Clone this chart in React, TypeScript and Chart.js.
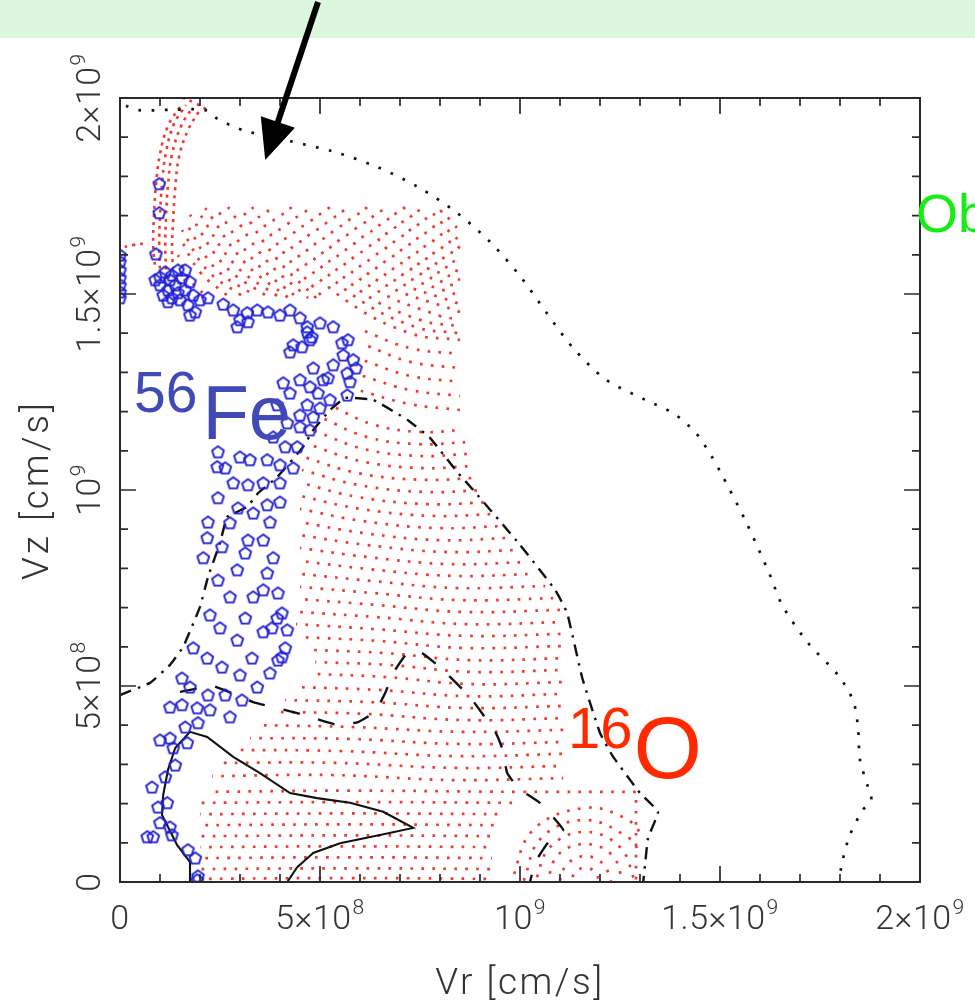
import React, { useEffect, useRef } from 'react';
import { Chart, registerables } from 'chart.js';

Chart.register(...registerables);

// All values are in units of 1e8 cm/s
const U = 1e8;

const X_TICK_VALUES = [0, 5, 10, 15, 20];
const Y_TICK_VALUES = [0, 5, 10, 15, 20];
const X_TICK_LABELS: [string, string][] = [['0', ''], ['5×10', '8'], ['10', '9'], ['1.5×10', '9'], ['2×10', '9']];
const Y_TICK_LABELS: [string, string][] = [['0', ''], ['5×10', '8'], ['10', '9'], ['1.5×10', '9'], ['2×10', '9']];
const MINOR_STEP = 1;
const AXIS_MAX = 20;

const X_TITLE = 'Vr [cm/s]';
const Y_TITLE = 'Vz [cm/s]';

// outer dotted contour
const OUTER_DOTTED: number[][] = [
  [0.15, 19.8], [0.45, 19.69], [1.3, 19.7], [2.13, 19.69], [2.45, 19.46], [2.8, 19.29], [3.13, 19.16],
  [4.25, 18.9], [5.38, 18.62], [6.43, 18.24], [7.45, 17.73], [8.4, 17.09], [9.25, 16.33], [10.0, 15.46],
  [10.65, 14.54], [11.33, 13.62], [12.13, 12.83], [13.13, 12.3], [13.83, 11.96], [14.4, 11.45],
  [14.8, 10.84], [15.0, 10.48], [15.63, 9.23], [16.25, 7.83], [16.55, 7.07], [17.2, 6.1], [17.95, 5.28],
  [18.33, 4.62], [18.45, 3.95], [18.5, 3.11], [18.7, 2.42], [18.78, 2.09], [18.55, 1.81], [18.23, 1.15],
  [18.03, 0.38], [18.0, 0],
];

// dash-dot contour
const DASH_DOT: number[][] = [
  [0, 4.77], [0.75, 5.08], [1.25, 5.54], [1.58, 6.0], [2.0, 7.02], [2.2, 7.78], [2.5, 8.65], [2.68, 9.31],
  [3.18, 9.57], [3.45, 9.92], [3.93, 10.33], [4.58, 11.1], [4.83, 11.53], [5.25, 12.04], [5.63, 12.35],
  [6.33, 12.3], [7.18, 11.79], [7.75, 11.33], [8.43, 10.46], [8.83, 10.0], [10.0, 8.6], [10.88, 7.45],
  [11.18, 6.86], [11.55, 5.23], [12.0, 3.8], [12.33, 3.19], [13.0, 2.27], [13.45, 1.79], [13.2, 1.12],
  [13.13, 0.48], [13.08, 0],
];

// dashed contour
const DASHED: number[][] = [
  [1.5, 4.85], [2.33, 5.0], [3.33, 4.59], [4.43, 4.31], [5.45, 4.0], [5.95, 4.08], [6.38, 4.34],
  [6.63, 4.82], [6.83, 5.33], [7.2, 5.87], [7.55, 5.84], [8.0, 5.48], [8.75, 4.72], [9.38, 3.83],
  [9.55, 3.42], [9.68, 2.78], [9.95, 2.4], [10.5, 2.02], [11.08, 1.33], [10.7, 1.0], [10.38, 0.51],
  [10.25, 0],
];

// solid contour
const SOLID: number[][] = [
  [1.75, 0], [1.75, 0.51], [1.43, 0.94], [1.05, 1.71], [1.08, 2.22], [1.2, 2.86], [1.38, 3.42],
  [1.75, 3.83], [2.18, 3.7], [2.83, 3.19], [3.5, 2.78], [4.25, 2.27], [4.93, 2.14], [5.75, 2.02],
  [6.58, 1.79], [7.33, 1.38], [6.5, 1.2], [5.5, 0.99], [4.83, 0.74], [4.43, 0.38], [4.18, 0],
];

// 16O particles: rows of the red dotted tracer field
const RED_PLUME: number[][][] = [
  [[1.5, 19.77], [1.2, 19.29], [1.0, 18.57], [0.9, 17.78], [0.85, 17.01], [0.83, 16.25], [0.88, 15.66]],
  [[1.65, 19.82], [1.35, 19.34], [1.15, 18.62], [1.05, 17.8], [1.0, 16.99], [0.98, 16.25], [1.0, 15.56]],
  [[1.8, 19.74], [1.53, 19.29], [1.3, 18.57], [1.2, 17.76], [1.15, 16.94], [1.13, 16.25], [1.15, 15.56]],
  [[1.98, 19.67], [1.7, 19.18], [1.48, 18.52], [1.38, 17.7], [1.33, 16.89], [1.3, 16.1], [1.33, 15.66]],
  [[1.58, 20.0], [1.88, 19.87], [2.2, 19.69]],
  [[0, 16.17], [0.33, 16.25], [0.68, 16.3]],
];

const RED_FAN: number[][][] = [
  [[8.0, 17.14], [8.3, 16.84], [8.5, 16.58]],
  [[7.7, 17.19], [8.05, 16.81], [8.33, 16.48], [8.5, 16.38]],
  [[7.38, 17.22], [7.8, 16.76], [8.18, 16.38], [8.5, 16.17]],
  [[7.08, 17.22], [7.53, 16.68], [8.0, 16.22], [8.5, 15.97]],
  [[6.75, 17.22], [7.25, 16.63], [7.8, 16.07], [8.5, 15.77]],
  [[6.45, 17.22], [6.98, 16.58], [7.6, 15.94], [8.5, 15.56]],
  [[6.13, 17.22], [6.7, 16.5], [7.38, 15.82], [8.5, 15.36]],
  [[5.83, 17.22], [6.43, 16.43], [7.18, 15.69], [8.5, 15.15]],
  [[5.5, 17.22], [6.13, 16.38], [6.95, 15.56], [8.5, 14.95]],
  [[5.2, 17.22], [5.85, 16.3], [6.73, 15.43], [8.5, 14.74]],
  [[4.88, 17.22], [5.55, 16.25], [6.5, 15.31], [8.5, 14.54]],
  [[4.58, 17.22], [5.28, 16.17], [6.28, 15.18], [8.0, 14.44], [8.5, 14.36]],
  [[4.25, 17.22], [5.0, 16.12], [6.05, 15.05], [7.5, 14.34], [8.5, 14.18]],
  [[3.95, 17.22], [4.73, 16.05], [5.85, 14.95], [7.38, 14.16], [8.5, 14.0]],
  [[3.63, 17.22], [4.45, 15.99], [5.63, 14.85], [7.25, 14.0], [8.5, 13.83]],
  [[3.3, 17.22], [4.18, 15.94], [5.13, 14.85]],
  [[3.0, 17.22], [3.9, 15.92], [4.95, 14.85]],
  [[6.05, 14.08], [7.25, 13.62], [8.5, 13.47]],
  [[2.7, 17.22], [3.65, 15.87], [4.7, 14.9]],
  [[2.38, 17.22], [3.38, 15.82], [4.5, 14.85]],
  [[6.13, 13.7], [7.25, 13.27], [8.5, 13.11]],
  [[2.13, 17.19], [3.13, 15.79], [4.25, 14.87]],
  [[1.93, 17.14], [2.88, 15.74], [4.0, 14.9]],
  [[6.05, 13.32], [7.25, 12.91], [8.5, 12.76]],
  [[1.75, 17.02], [2.63, 15.71], [3.7, 14.92]],
  [[1.63, 16.84], [2.38, 15.66], [3.38, 14.95]],
  [[6.0, 12.93], [7.25, 12.55], [8.5, 12.4]],
  [[1.55, 16.63], [2.18, 15.61], [3.05, 14.95]],
  [[1.5, 16.43], [2.0, 15.56], [2.7, 14.95]],
  [[5.95, 12.55], [7.25, 12.19], [8.5, 12.04]],
  [[1.45, 15.99], [1.75, 15.36], [2.13, 14.97]],
];

const RED_MID: number[][][] = [
  [[5.25, 12.17], [6.3, 11.68], [7.5, 11.48], [8.55, 11.53]],
  [[5.05, 11.84], [6.18, 11.35], [7.45, 11.17], [8.63, 11.22]],
  [[4.88, 11.5], [6.08, 11.05], [7.45, 10.87], [8.7, 10.92]],
  [[4.7, 11.17], [6.0, 10.74], [7.5, 10.56], [8.8, 10.61]],
  [[4.6, 10.84], [5.95, 10.43], [7.55, 10.26], [8.95, 10.31]],
  [[4.55, 10.51], [5.95, 10.13], [7.63, 9.95], [9.1, 10.0]],
  [[4.53, 10.18], [5.95, 9.82], [7.7, 9.64], [9.25, 9.69]],
  [[4.5, 9.85], [6.0, 9.52], [7.8, 9.34], [9.4, 9.39]],
  [[4.5, 9.52], [6.05, 9.21], [7.9, 9.03], [9.58, 9.08]],
  [[4.5, 9.18], [6.1, 8.9], [8.0, 8.72], [9.75, 8.78]],
  [[4.5, 8.85], [6.15, 8.6], [8.1, 8.42], [9.95, 8.47]],
  [[4.5, 8.52], [6.2, 8.29], [8.2, 8.11], [10.15, 8.16]],
  [[4.5, 8.19], [6.25, 7.98], [8.3, 7.81], [10.38, 7.86]],
  [[4.5, 7.86], [6.3, 7.68], [8.4, 7.5], [10.63, 7.55]],
  [[4.5, 7.53], [6.35, 7.37], [8.5, 7.19], [10.83, 7.24]],
  [[4.48, 7.22], [6.38, 7.07], [8.55, 6.89], [11.0, 6.94]],
  [[4.45, 6.89], [6.4, 6.76], [8.6, 6.58], [11.08, 6.63]],
  [[4.4, 6.58], [6.4, 6.45], [8.6, 6.28], [11.08, 6.33]],
  [[4.5, 6.25], [6.45, 6.15], [8.6, 5.97], [11.08, 6.02]],
  [[4.8, 5.92], [6.63, 5.84], [8.75, 5.66], [11.08, 5.71]],
  [[4.88, 5.61], [6.68, 5.54], [8.75, 5.36], [11.08, 5.41]],
  [[4.8, 5.31], [6.63, 5.23], [8.75, 5.05], [11.08, 5.1]],
  [[4.5, 4.97], [6.45, 4.9], [8.7, 4.74], [11.08, 4.8]],
  [[4.13, 4.64], [6.25, 4.59], [8.65, 4.44], [11.08, 4.49]],
  [[3.88, 4.34], [6.1, 4.29], [8.6, 4.13], [11.08, 4.18]],
  [[3.55, 4.0], [5.9, 3.95], [8.55, 3.83], [11.08, 3.88]],
  [[3.25, 3.67], [5.75, 3.65], [8.5, 3.52], [11.08, 3.57]],
  [[2.88, 3.37], [5.55, 3.34], [8.45, 3.21], [11.08, 3.27]],
  [[2.55, 3.04], [5.38, 3.04], [8.4, 2.91], [11.08, 2.96]],
  [[2.3, 2.7], [5.25, 2.73], [8.38, 2.6], [11.08, 2.65]],
];

const RED_LOW: number[][][] = [
  [[2.25, 2.3], [5.75, 2.33], [10.0, 2.3], [13.0, 2.3]],
  [[2.0, 2.02], [5.75, 2.04], [9.8, 2.02]],
  [[2.0, 1.73], [5.75, 1.75], [9.6, 1.73]],
  [[2.0, 1.45], [5.75, 1.47], [9.5, 1.45]],
  [[2.0, 1.17], [5.75, 1.19], [9.4, 1.17]],
  [[2.0, 0.89], [5.75, 0.91], [9.3, 0.89]],
  [[2.0, 0.61], [5.75, 0.63], [9.3, 0.61]],
  [[2.0, 0.33], [5.75, 0.35], [9.3, 0.33]],
  [[2.0, 0.08], [5.75, 0.1], [9.3, 0.08]],
];

const RED_ARCS: number[][][] = [
  [[11.28, 0], [11.38, 0.26], [11.63, 0.36], [11.88, 0.26], [11.98, 0]],
  [[10.98, 0], [11.18, 0.46], [11.63, 0.66], [12.08, 0.46], [12.28, 0]],
  [[10.68, 0], [10.95, 0.69], [11.63, 0.97], [12.3, 0.69], [12.58, 0]],
  [[10.38, 0], [10.75, 0.89], [11.63, 1.28], [12.5, 0.89], [12.88, 0]],
  [[10.08, 0], [10.53, 1.12], [11.63, 1.58], [12.73, 1.12], [13.0, 0.74]],
  [[9.78, 0], [10.33, 1.33], [11.63, 1.89], [12.63, 1.63], [13.0, 1.28]],
  [[12.9, 2.22], [12.9, 0.05]],
];

// 56Fe particles (blue pentagons)
const FE_POINTS: number[][] = [
  [0, 15.99], [0, 15.82], [0, 15.61], [0, 15.41], [0, 15.23], [0, 15.05], [0, 14.9],
  [0.98, 17.81], [0.98, 17.07], [0.9, 16.02],
  [1.0, 15.43], [1.13, 15.56], [1.3, 15.48], [1.45, 15.61], [1.55, 15.41], [1.38, 15.23], [1.2, 15.1],
  [1.0, 15.23], [1.63, 15.1], [1.75, 15.31], [1.83, 14.97], [1.3, 14.9], [1.5, 14.85], [1.7, 14.72],
  [1.88, 14.54], [1.08, 14.97], [1.45, 15.03], [1.25, 15.36], [1.63, 15.61], [1.75, 14.46], [1.2, 14.8],
  [0.88, 15.36], [2.0, 14.85],
  [2.2, 14.9], [2.58, 14.74], [2.83, 14.59], [3.0, 14.34], [2.93, 14.16], [3.18, 14.52], [3.2, 14.29],
  [3.43, 14.59], [3.7, 14.54], [4.0, 14.46], [4.25, 14.59], [4.5, 14.39], [4.68, 14.16], [4.8, 13.9],
  [4.55, 13.65], [4.25, 13.52], [4.33, 13.7], [5.0, 14.26], [5.33, 14.16], [4.68, 14.03], [4.75, 13.83],
  [5.55, 13.75], [5.7, 13.83], [5.58, 13.44], [5.83, 13.32], [5.9, 13.11], [4.83, 13.11], [5.33, 13.19],
  [5.68, 12.98], [5.75, 12.76], [5.2, 12.86], [4.75, 12.63], [4.95, 12.47], [5.25, 12.3], [5.68, 12.42],
  [4.68, 12.17], [5.0, 12.09], [5.08, 12.81], [4.5, 12.81], [4.25, 12.47], [4.5, 11.91], [4.83, 11.86],
  [4.5, 11.61], [4.18, 11.71], [3.93, 12.17], [4.75, 11.53], [4.43, 11.1], [3.83, 11.35], [4.13, 11.1],
  [4.08, 12.73],
  [2.45, 10.97], [2.43, 10.59], [2.63, 10.56], [3.0, 10.84], [3.25, 10.77], [3.68, 10.77], [4.0, 10.64],
  [4.33, 10.56], [2.83, 10.18], [3.2, 10.13], [3.58, 10.18], [4.0, 10.18], [2.45, 9.8], [2.95, 9.54],
  [3.33, 9.41], [3.68, 9.62], [4.0, 9.69], [2.2, 9.18], [2.75, 9.16], [3.75, 9.18], [2.18, 8.78],
  [2.55, 8.55], [3.2, 8.72], [3.58, 8.72], [2.08, 8.27], [3.13, 8.39], [3.83, 8.27], [2.93, 7.96],
  [3.68, 7.88], [2.45, 7.7], [2.75, 7.27], [3.33, 7.27], [3.58, 7.45], [3.95, 7.37], [2.25, 6.81],
  [3.13, 6.73], [3.93, 6.73], [2.5, 6.48], [3.8, 6.48], [2.93, 6.17], [3.58, 6.38], [1.83, 5.97],
  [2.18, 5.71], [2.55, 5.48], [3.0, 5.28], [3.43, 4.97], [3.75, 5.33], [4.13, 5.97], [4.18, 6.43],
  [1.55, 5.2], [1.75, 4.97], [2.2, 4.77], [2.63, 4.77], [1.25, 4.46], [1.55, 4.52], [1.93, 4.44],
  [2.25, 4.39], [4.05, 6.86], [4.05, 5.74], [3.3, 5.71], [3.95, 5.66], [3.05, 4.64], [2.75, 4.21],
  [1.95, 4.06], [1.63, 3.95], [1.0, 3.62], [1.25, 3.67], [1.33, 3.42], [1.68, 3.55], [1.38, 2.98],
  [1.13, 2.68], [0.8, 2.42], [0.95, 1.91], [1.18, 2.02], [1.0, 1.51], [1.25, 1.4], [1.3, 1.2],
  [0.68, 1.15], [0.83, 1.15], [1.7, 0.82], [1.88, 0.61], [1.93, 0.05], [1.95, 0.15],
];

// annotations (data coordinates, units of 1e8)
const ARROW_TAIL = [4.95, 22.45];
const ARROW_TIP = [3.63, 18.42];
const FE_LABEL = { vr: 0.35, vz: 11.99, sup: '56', main: 'Fe' };
const O_LABEL = { vr: 11.2, vz: 3.42, sup: '16', main: 'O' };
const OB_LABEL = { vr: 19.9, vz: 16.58, text: 'Ob' };

const TICK_FONT = 'Roboto, "DejaVu Sans", sans-serif';
const TICK_WEIGHT = 300;
const TICK_COLOR = '#333333';
const RED = '#ee3a30';
const BLUE = '#1f1fd6';

function makePentagon(): HTMLCanvasElement {
  const c = document.createElement('canvas');
  c.width = 17;
  c.height = 17;
  const g = c.getContext('2d')!;
  g.strokeStyle = BLUE;
  g.lineWidth = 1.9;
  g.lineJoin = 'round';
  g.beginPath();
  for (let i = 0; i < 5; i++) {
    const a = -Math.PI / 2 + (i * 2 * Math.PI) / 5;
    const px = 8.5 + 6.2 * Math.cos(a);
    const py = 8.9 + 6.2 * Math.sin(a);
    if (i === 0) g.moveTo(px, py);
    else g.lineTo(px, py);
  }
  g.closePath();
  g.stroke();
  return c;
}

function drawSupLabel(ctx: CanvasRenderingContext2D, base: string, sup: string, size: number, spacing = 0) {
  const bf = `${TICK_WEIGHT} ${size}px ${TICK_FONT}`;
  const sf = `${TICK_WEIGHT} ${size * 0.62}px ${TICK_FONT}`;
  (ctx as any).letterSpacing = `${spacing}px`;
  ctx.font = bf;
  const wb = ctx.measureText(base).width;
  ctx.font = sf;
  const ws = sup ? ctx.measureText(sup).width + 1 : 0;
  const x0 = -(wb + ws) / 2;
  ctx.textAlign = 'left';
  ctx.textBaseline = 'alphabetic';
  ctx.font = bf;
  ctx.fillText(base, x0, 0);
  if (sup) {
    ctx.font = sf;
    ctx.fillText(sup, x0 + wb + 1, -size * 0.45);
  }
  (ctx as any).letterSpacing = '0px';
}

const overlayPlugin = {
  id: 'overlay',
  beforeDraw(chart: any) {
    const ctx = chart.ctx as CanvasRenderingContext2D;
    ctx.save();
    ctx.fillStyle = '#ffffff';
    ctx.fillRect(0, 0, chart.width, chart.height);
    ctx.fillStyle = '#dbf8de';
    ctx.fillRect(0, 0, chart.width, 38);
    ctx.restore();
  },
  afterDatasetsDraw(chart: any) {
    const ctx = chart.ctx as CanvasRenderingContext2D;
    const xs = chart.scales.x;
    const ys = chart.scales.y;
    const { left, right, top, bottom } = chart.chartArea;
    ctx.save();
    // frame
    ctx.strokeStyle = '#2a2a2a';
    ctx.lineWidth = 2;
    ctx.strokeRect(left, top, right - left, bottom - top);
    // ticks (inward, mirrored)
    ctx.lineWidth = 1.7;
    ctx.beginPath();
    for (let v = MINOR_STEP; v < AXIS_MAX; v += MINOR_STEP) {
      const major = v % 5 === 0;
      const len = major ? 16 : 8;
      const px = xs.getPixelForValue(v * U);
      ctx.moveTo(px, bottom);
      ctx.lineTo(px, bottom - len);
      ctx.moveTo(px, top);
      ctx.lineTo(px, top + len);
      const py = ys.getPixelForValue(v * U);
      ctx.moveTo(left, py);
      ctx.lineTo(left + len, py);
      ctx.moveTo(right, py);
      ctx.lineTo(right - len, py);
    }
    ctx.stroke();
    // tick labels
    ctx.fillStyle = TICK_COLOR;
    X_TICK_VALUES.forEach((v, i) => {
      ctx.save();
      ctx.translate(xs.getPixelForValue(v * U), bottom + 47);
      drawSupLabel(ctx, X_TICK_LABELS[i][0], X_TICK_LABELS[i][1], 34, 0.5);
      ctx.restore();
    });
    Y_TICK_VALUES.forEach((v, i) => {
      ctx.save();
      ctx.translate(left - 20, ys.getPixelForValue(v * U));
      ctx.rotate(-Math.PI / 2);
      drawSupLabel(ctx, Y_TICK_LABELS[i][0], Y_TICK_LABELS[i][1], 34, 0.5);
      ctx.restore();
    });
    // axis titles
    ctx.save();
    ctx.translate((left + right) / 2, bottom + 112);
    drawSupLabel(ctx, X_TITLE, '', 37, 2.5);
    ctx.restore();
    ctx.save();
    ctx.translate(left - 72, (top + bottom) / 2);
    ctx.rotate(-Math.PI / 2);
    drawSupLabel(ctx, Y_TITLE, '', 37, 3);
    ctx.restore();

    // 56Fe label
    ctx.textAlign = 'left';
    ctx.textBaseline = 'alphabetic';
    ctx.fillStyle = '#4049b5';
    let lx = xs.getPixelForValue(FE_LABEL.vr * U);
    let ly = ys.getPixelForValue(FE_LABEL.vz * U);
    ctx.font = '57px "Liberation Sans", Arial, sans-serif';
    ctx.fillText(FE_LABEL.sup, lx, ly);
    let w = ctx.measureText(FE_LABEL.sup).width;
    ctx.font = '76px "Liberation Sans", Arial, sans-serif';
    ctx.fillText(FE_LABEL.main, lx + w + 5, ly + 27);

    // 16O label
    ctx.fillStyle = '#ff2a00';
    lx = xs.getPixelForValue(O_LABEL.vr * U);
    ly = ys.getPixelForValue(O_LABEL.vz * U);
    ctx.font = '58px "Liberation Sans", Arial, sans-serif';
    ctx.fillText(O_LABEL.sup, lx, ly);
    w = ctx.measureText(O_LABEL.sup).width;
    ctx.font = '88px "Liberation Sans", Arial, sans-serif';
    ctx.fillText(O_LABEL.main, lx + w + 1, ly + 30);

    // "Ob" green text (cut at the page edge)
    ctx.fillStyle = '#14ee14';
    ctx.font = '54px "Liberation Sans", Arial, sans-serif';
    ctx.fillText(OB_LABEL.text, xs.getPixelForValue(OB_LABEL.vr * U), ys.getPixelForValue(OB_LABEL.vz * U));

    // arrow
    const tx = xs.getPixelForValue(ARROW_TAIL[0] * U);
    const ty = ys.getPixelForValue(ARROW_TAIL[1] * U);
    const hx = xs.getPixelForValue(ARROW_TIP[0] * U);
    const hy = ys.getPixelForValue(ARROW_TIP[1] * U);
    const dx = hx - tx;
    const dy = hy - ty;
    const L = Math.hypot(dx, dy);
    const ux = dx / L;
    const uy = dy / L;
    const headLen = 40;
    const headHalf = 18;
    const bx = hx - ux * headLen;
    const by = hy - uy * headLen;
    ctx.strokeStyle = '#000';
    ctx.fillStyle = '#000';
    ctx.lineWidth = 6;
    ctx.beginPath();
    ctx.moveTo(tx, ty);
    ctx.lineTo(bx + ux * 4, by + uy * 4);
    ctx.stroke();
    ctx.beginPath();
    ctx.moveTo(hx, hy);
    ctx.lineTo(bx - uy * headHalf, by + ux * headHalf);
    ctx.lineTo(bx + uy * headHalf, by - ux * headHalf);
    ctx.closePath();
    ctx.fill();
    ctx.restore();
  },
};

function toXY(arr: number[][]) {
  return arr.map(([x, y]) => ({ x: x * U, y: y * U }));
}

export default function App() {
  const ref = useRef<HTMLCanvasElement>(null);

  useEffect(() => {
    const canvas = ref.current;
    if (!canvas) return;
    const pent = makePentagon();

    const curve = (arr: number[][], color: string, width: number, dash: number[], tension: number, offset = 0) => ({
      data: toXY(arr),
      showLine: true,
      borderColor: color,
      borderWidth: width,
      borderDash: dash,
      borderDashOffset: offset,
      borderCapStyle: 'butt',
      pointRadius: 0,
      fill: false,
      tension,
    });

    const datasets: any[] = [];
    datasets.push({
      label: '56Fe',
      data: toXY(FE_POINTS),
      showLine: false,
      pointStyle: pent,
      pointRadius: 8,
      borderColor: BLUE,
      backgroundColor: BLUE,
    });
    datasets.push(curve(SOLID, '#111', 2.1, [], 0));
    datasets.push(curve(DASHED, '#111', 2.4, [17, 19], 0.1));
    datasets.push(curve(DASH_DOT, '#111', 2.4, [12, 7, 2.5, 7], 0.1));
    datasets.push(curve(OUTER_DOTTED, '#111', 2.7, [2.7, 10.5], 0.3));
    RED_PLUME.forEach((row, i) => datasets.push(curve(row, RED, 2.6, [3, 5], 0.4, i * 2.3)));
    [...RED_FAN, ...RED_MID, ...RED_LOW, ...RED_ARCS].forEach((row, i) =>
      datasets.push(curve(row, RED, 2.7, [2.7, 8.3], 0.4, (i * 3.7) % 11))
    );

    const chart = new Chart(canvas, {
      type: 'scatter',
      data: { datasets },
      options: {
        animation: false,
        responsive: false,
        maintainAspectRatio: false,
        events: [],
        layout: { padding: { left: 120, right: 55, top: 98, bottom: 124 } },
        plugins: { legend: { display: false }, tooltip: { enabled: false } },
        scales: {
          x: { type: 'linear', min: 0, max: AXIS_MAX * U, display: false },
          y: { type: 'linear', min: 0, max: AXIS_MAX * U, display: false },
        },
      },
      plugins: [overlayPlugin],
    } as any);
    return () => chart.destroy();
  }, []);

  return (
    <div style={{ position: 'absolute', left: 0, top: 0, width: 975, height: 1006, overflow: 'hidden', background: '#fff' }}>
      <canvas ref={ref} width={975} height={1006} style={{ display: 'block', width: 975, height: 1006 }} />
    </div>
  );
}
